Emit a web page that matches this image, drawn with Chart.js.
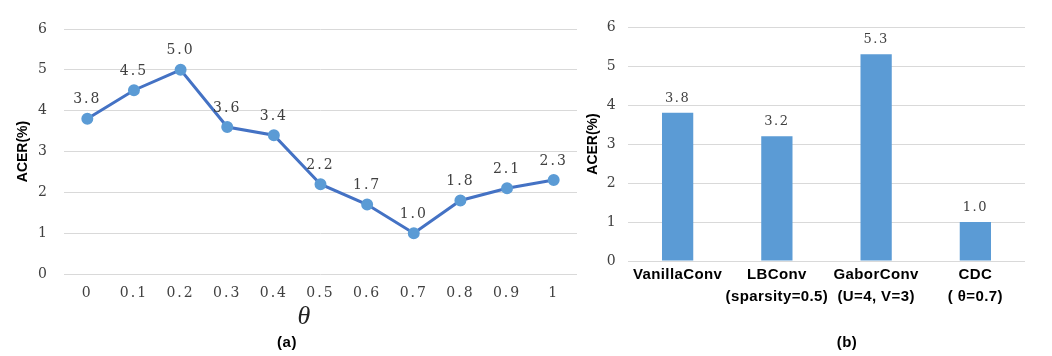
<!DOCTYPE html>
<html>
<head>
<meta charset="utf-8">
<script src="https://cdn.jsdelivr.net/npm/chart.js@4.4.1/dist/chart.umd.min.js"></script>
<style>
  html, body { margin: 0; padding: 0; background: #ffffff; }
  body { width: 1052px; height: 356px; position: relative; overflow: hidden; }
  canvas { position: absolute; top: 0; }
  #cA { left: 0; }
  #cB { left: 560px; }
  .cap { position: absolute; transform: translate(-50%, -50%); white-space: nowrap; color: #000; }
  .sub { font: bold 15px "Liberation Sans", Arial, sans-serif; letter-spacing: 0.5px; }
  .theta { font: italic 26px "Liberation Serif", "DejaVu Serif", serif; color: #222; }
</style>
</head>
<body>
<canvas id="cA" width="590" height="356"></canvas>
<canvas id="cB" width="492" height="356"></canvas>
<div class="cap theta" style="left:304px; top:316px;">θ</div>
<div class="cap sub" style="left:287px; top:341px;">(a)</div>
<div class="cap sub" style="left:847px; top:341px;">(b)</div>
<script>
// ---- data ----
const thetaLabels = ['0', '0.1', '0.2', '0.3', '0.4', '0.5', '0.6', '0.7', '0.8', '0.9', '1'];
const thetaACER = [3.8, 4.5, 5.0, 3.6, 3.4, 2.2, 1.7, 1.0, 1.8, 2.1, 2.3];
const convLabels = [['VanillaConv'], ['LBConv', '(sparsity=0.5)'], ['GaborConv', '(U=4, V=3)'], ['CDC', '( θ=0.7)']];
const convACER = [3.8, 3.2, 5.3, 1.0];
const yAxisTitle = 'ACER(%)';
const yMin = 0, yMax = 6, yStep = 1;

// ---- styling ----
const GRID = '#d9d9d9';
const TICK = '#404040';
const serifFont = '"DejaVu Serif", "Liberation Serif", serif';
const sansFont = '"Liberation Sans", Arial, sans-serif';

Chart.defaults.animation = false;
Chart.defaults.font.family = sansFont;

// letter spacing for tick labels (the y axis title is kept unspaced)
const spacing = {
  id: 'spacing',
  beforeDraw(chart, args, opts) {
    chart.ctx.letterSpacing = opts.ls;
    const s = chart.scales.y;
    if (s && !s._titleWrapped) {
      const orig = s.drawTitle.bind(s);
      s.drawTitle = function () {
        const ctx = this.ctx;
        const prev = ctx.letterSpacing;
        ctx.letterSpacing = '0px';
        orig();
        ctx.letterSpacing = prev;
      };
      s._titleWrapped = true;
    }
  }
};

const valueLabels = {
  id: 'valueLabels',
  afterDatasetsDraw(chart, args, opts) {
    const ctx = chart.ctx;
    ctx.save();
    ctx.letterSpacing = opts.ls;
    ctx.font = opts.font;
    ctx.fillStyle = opts.color;
    ctx.textAlign = 'center';
    ctx.textBaseline = 'middle';
    chart.data.datasets.forEach((ds, i) => {
      const meta = chart.getDatasetMeta(i);
      meta.data.forEach((el, j) => {
        const p = el.getProps(['x', 'y'], true);
        ctx.fillText(Number(ds.data[j]).toFixed(1), p.x, p.y - opts.offset);
      });
    });
    ctx.restore();
  }
};

function yScale(width, titlePad, tickPad) {
  return {
    min: yMin, max: yMax,
    ticks: { stepSize: yStep, padding: tickPad, color: TICK, font: { family: serifFont, size: 14 } },
    grid: { color: GRID, lineWidth: 1, drawTicks: false },
    border: { display: false },
    title: { display: true, text: yAxisTitle, color: '#000', font: { family: sansFont, size: 14, weight: 'bold' }, padding: { top: titlePad, bottom: 0 } },
    afterFit(s) { s.width = width; }
  };
}

// ---- chart (a): line ----
new Chart(document.getElementById('cA'), {
  type: 'line',
  data: {
    labels: thetaLabels,
    datasets: [{
      data: thetaACER,
      borderColor: '#4472C4',
      borderWidth: 3,
      pointBackgroundColor: '#5B9BD5',
      pointBorderColor: '#5B9BD5',
      pointRadius: 4.5,
      tension: 0
    }]
  },
  options: {
    responsive: false,
    layout: { padding: { left: 0, right: 13, top: 29, bottom: 0 } },
    plugins: {
      legend: { display: false },
      tooltip: { enabled: false },
      spacing: { ls: '2px' },
      valueLabels: { font: '14px ' + serifFont, color: '#404040', offset: 19, ls: '2px' }
    },
    scales: {
      x: {
        offset: true,
        ticks: { autoSkip: false, maxRotation: 0, padding: 11, color: TICK, font: { family: serifFont, size: 14 } },
        grid: { display: false, drawTicks: false },
        border: { display: false },
        afterFit(s) { s.height = 82; }
      },
      y: yScale(64, 15, 15)
    }
  },
  plugins: [spacing, valueLabels]
});

// ---- chart (b): bars ----
new Chart(document.getElementById('cB'), {
  type: 'bar',
  data: {
    labels: convLabels,
    datasets: [{
      data: convACER,
      backgroundColor: '#5B9BD5',
      borderWidth: 0,
      barPercentage: 0.9,
      categoryPercentage: 0.35
    }]
  },
  options: {
    responsive: false,
    layout: { padding: { left: 0, right: 27, top: 27, bottom: 0 } },
    plugins: {
      legend: { display: false },
      tooltip: { enabled: false },
      spacing: { ls: '0.4px' },
      valueLabels: { font: '13px ' + serifFont, color: '#404040', offset: 14.5, ls: '1.5px' }
    },
    scales: {
      x: {
        ticks: { autoSkip: false, maxRotation: 0, padding: 3, color: '#000', font: { family: sansFont, size: 15, weight: 'bold', lineHeight: 1.45 } },
        grid: { display: false, drawTicks: false },
        border: { display: false },
        afterFit(s) { s.height = 95; }
      },
      y: yScale(68, 25, 12)
    }
  },
  plugins: [spacing, valueLabels]
});
</script>
</body>
</html>
